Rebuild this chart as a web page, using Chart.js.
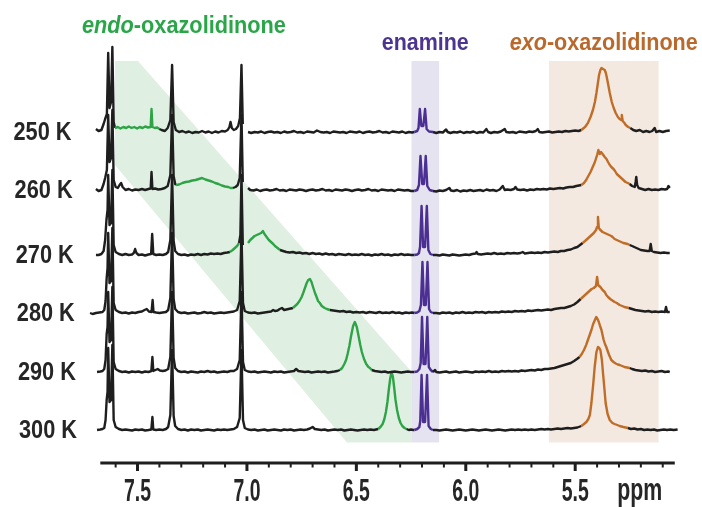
<!DOCTYPE html>
<html>
<head>
<meta charset="utf-8">
<script src="https://cdn.jsdelivr.net/npm/chart.js@4.4.1/dist/chart.umd.min.js"></script>
<style>
  html, body { margin: 0; padding: 0; background: #fff; }
  canvas { display: block; }
</style>
</head>
<body>
<canvas id="nmrChart" width="702" height="507"></canvas>
<script>
// temperatures and the vertical stacking offset of each trace
const temps = ["250 K", "260 K", "270 K", "280 K", "290 K", "300 K"];
const offsets = [338, 280, 215, 157, 98, 40];

// x axis (ppm)
const majorTicks = [7.5, 7.0, 6.5, 6.0, 5.5];
const tickLabels = ["7.5", "7.0", "6.5", "6.0", "5.5"];

// highlighted regions
const endoBand = [[7.603, 409], [7.498, 409], [6.247, 98], [6.247, 27.5], [6.543, 27.5], [7.603, 305]];
const enamineBand = [6.248, 6.122];
const exoBand = [5.620, 5.119];
const bandSpan = [27.5, 409];

// which parts of each trace belong to which species
const endoRanges = [
  [[7.603, 7.40]],
  [[7.324, 7.064]],
  [[7.078, 7.036], [6.995, 6.849]],
  [[6.79, 6.621]],
  [[6.575, 6.43]],
  [[6.40, 6.271]]
];
const enamineRange = [6.235, 6.15];
const exoRanges = [[5.472, 5.248], [5.472, 5.251], [5.466, 5.251], [5.475, 5.255], [5.48, 5.251], [5.472, 5.259]];

// traces: [ppm, intensity]
const s250 = [[7.69,3],[7.678,1],[7.665,2],[7.655,8],[7.648,13],[7.640,18],[7.634,79],[7.628,24],[7.621,30],[7.615,85],[7.609,10],[7.603,4],
  [7.59,5],[7.578,3.5],[7.565,5],[7.552,4],[7.54,5.5],[7.527,4],[7.515,5],[7.502,3.5],[7.49,5],[7.477,4],[7.465,5.5],[7.452,4.5],[7.44,5],[7.436,23],[7.432,5],[7.42,4],[7.41,4.5],[7.40,3],
  [7.39,2],[7.375,1],[7.362,4],[7.350,12],[7.342,67],[7.335,10],[7.325,2],[7.31,0],[7.295,1],[7.28,-0.5],[7.265,0.5],[7.25,-1],[7.235,0],[7.22,-0.5],[7.205,1],[7.19,-0.5],[7.175,0.5],[7.16,-1],[7.145,0.5],[7.13,-0.5],[7.115,1],[7.10,0.5],[7.088,2],[7.080,5],[7.075,10],[7.069,4],[7.06,2],[7.05,3],[7.04,6],[7.032,14],[7.025,67],[7.019,8],[7.012,null],
  [6.995,0],[6.98,-1],[6.965,0],[6.95,-0.5],[6.935,0.5],[6.92,-1],[6.905,0],[6.89,0.5],[6.875,-0.5],[6.86,0],[6.845,-1],[6.83,0.5],[6.815,-0.5],[6.80,0],[6.785,1],[6.77,-0.5],[6.755,0],[6.74,-1],[6.725,0.5],[6.71,0],[6.695,-0.5],[6.68,1.5],[6.665,0],[6.65,-0.5],[6.635,0],[6.62,-1],[6.605,0.5],[6.59,0],[6.575,-0.5],[6.56,0],[6.545,-1],[6.53,0.5],[6.515,0],[6.50,-0.5],[6.485,0.5],[6.47,-1],[6.455,0],[6.44,0.5],[6.425,-0.5],[6.41,0],[6.395,1],[6.38,-0.5],[6.365,0],[6.35,-1],[6.335,0.5],[6.32,0],[6.305,-0.5],[6.29,0.5],[6.275,-1],[6.26,0],[6.245,-0.5],
  [6.235,0],[6.222,1],[6.216,4],[6.210,23],[6.203,6],[6.194,6],[6.186,23],[6.179,3],[6.168,0.5],[6.15,0],
  [6.135,-1],[6.12,0],[6.105,-0.5],[6.09,2.5],[6.083,0],[6.07,-1],[6.055,0],[6.04,-0.5],[6.025,0.5],[6.01,-1],[5.995,0],[5.98,-0.5],[5.965,0.5],[5.95,-1],[5.935,0],[5.92,-0.5],[5.906,3],[5.898,0],[5.885,-1],[5.87,0],[5.855,-0.5],[5.84,0.5],[5.822,3],[5.815,0],[5.80,-0.5],[5.785,0],[5.77,-1],[5.755,0.5],[5.74,0],[5.725,-0.5],[5.71,0.5],[5.695,0],[5.68,1],[5.671,3],[5.664,0],[5.65,-0.5],[5.635,0],[5.62,0.5],[5.605,-0.5],[5.59,0],[5.575,0.5],[5.56,0],[5.545,1],[5.53,0.5],[5.515,1],[5.50,1.5],[5.485,1],
  [5.472,2],[5.455,5],[5.442,9],[5.43,15],[5.419,22],[5.41,30],[5.403,39],[5.397,48],[5.391,57],[5.385,62],[5.380,64],[5.373,63],[5.365,62],[5.36,59],[5.355,54],[5.348,46],[5.342,39],[5.333,30],[5.324,24],[5.315,19],[5.305,15],[5.297,13],[5.290,12],[5.287,17],[5.283,11],[5.275,9],[5.269,7],[5.258,5],[5.248,4],
  [5.235,2],[5.221,1],[5.205,2],[5.19,0],[5.175,1],[5.16,0],[5.148,1],[5.137,4],[5.13,0],[5.115,1],[5.10,0],[5.085,1],[5.068,1.5]];

const s260 = [[7.69,1],[7.678,-1],[7.665,0],[7.655,6],[7.648,12],[7.640,20],[7.634,75],[7.628,28],[7.621,32],[7.615,80],[7.609,10],[7.600,3],[7.590,2],[7.582,5],[7.575,7],[7.568,3],[7.555,0],[7.54,1],[7.525,-0.5],[7.51,0.5],[7.495,0],[7.48,1],[7.465,0],[7.45,1],[7.44,1.5],[7.436,18],[7.432,1],[7.42,1.5],[7.405,0.5],[7.39,1],[7.375,2],[7.362,4],[7.350,15],[7.342,75],[7.335,14],[7.328,6],
  [7.324,5],[7.31,5.5],[7.295,7],[7.28,8],[7.265,8.5],[7.25,9.5],[7.235,10],[7.22,11],[7.205,12],[7.19,10.5],[7.175,9.5],[7.16,8.5],[7.145,7],[7.13,6],[7.115,4.5],[7.10,3.5],[7.085,3],[7.075,2],[7.064,2],
  [7.052,3],[7.042,5],[7.033,12],[7.025,75],[7.019,8],[7.012,null],
  [6.995,2],[6.985,0],[6.97,-0.5],[6.955,0.5],[6.94,-1],[6.925,0],[6.91,0.5],[6.895,-0.5],[6.88,0],[6.865,1],[6.85,-0.5],[6.835,0],[6.82,-1],[6.805,0.5],[6.79,0],[6.775,-0.5],[6.76,0.5],[6.745,0],[6.73,-1],[6.715,0],[6.70,0.5],[6.685,-0.5],[6.67,0],[6.655,1],[6.64,-0.5],[6.625,0],[6.61,-1],[6.595,0.5],[6.58,0],[6.565,-0.5],[6.55,0.5],[6.535,0],[6.52,-1],[6.505,0],[6.49,0.5],[6.475,-0.5],[6.46,0],[6.445,1],[6.43,-0.5],[6.415,0],[6.40,-1],[6.385,0.5],[6.37,0],[6.355,-0.5],[6.34,0],[6.325,-1],[6.31,0.5],[6.295,0],[6.28,-0.5],[6.265,0],[6.25,-1],
  [6.235,-1],[6.222,0],[6.214,5],[6.207,34],[6.199,6],[6.191,6],[6.183,34],[6.176,4],[6.165,0],[6.15,-1],
  [6.135,-1.5],[6.12,-0.5],[6.105,-1],[6.09,0],[6.075,2],[6.068,-0.5],[6.055,-1],[6.04,0],[6.025,-1.5],[6.01,-0.5],[5.995,-1],[5.98,0],[5.965,-1],[5.95,-0.5],[5.935,0],[5.92,-1],[5.905,0.5],[5.89,-0.5],[5.875,0],[5.86,-1],[5.845,0.5],[5.831,4],[5.822,0],[5.81,0.5],[5.795,0],[5.78,1],[5.773,3],[5.765,0.5],[5.75,0],[5.735,0.5],[5.72,-0.5],[5.705,0.5],[5.69,0],[5.675,1],[5.66,0.5],[5.645,1],[5.63,0.5],[5.615,1.5],[5.60,1],[5.585,1.5],[5.57,2],[5.555,1.5],[5.54,2.5],[5.525,3],[5.51,3],[5.495,4],[5.483,4.5],
  [5.472,5],[5.46,7],[5.45,10],[5.44,14],[5.43,18],[5.42,23],[5.41,28],[5.40,35],[5.394,40],[5.388,36],[5.382,38],[5.375,36],[5.365,33],[5.357,31],[5.35,28],[5.342,25],[5.335,23],[5.325,21],[5.318,19],[5.31,16],[5.30,14],[5.29,12],[5.28,10],[5.27,8],[5.26,7],[5.251,6],
  [5.24,4],[5.228,3],[5.224,8],[5.221,13],[5.217,5],[5.21,2],[5.195,1],[5.18,0],[5.165,1],[5.15,0],[5.135,0.5],[5.12,0],[5.105,1],[5.09,0.5],[5.08,1],[5.074,4],[5.068,2]];

const s270 = [[7.69,0],[7.678,0],[7.665,1],[7.655,4],[7.648,15],[7.642,35],[7.637,45],[7.634,80],[7.628,30],[7.621,32],[7.615,85],[7.609,10],[7.600,3],[7.585,1],[7.57,0],[7.555,1],[7.54,0],[7.525,0.5],[7.517,2],[7.511,6],[7.505,2],[7.495,0],[7.48,0.5],[7.465,-0.5],[7.45,0.5],[7.438,1],[7.433,21],[7.428,1],[7.415,0],[7.40,0.5],[7.385,0],[7.37,1],[7.36,3],[7.350,15],[7.342,80],[7.335,14],[7.328,4],[7.315,1],[7.30,0],[7.285,0.5],[7.27,-0.5],[7.255,0.5],[7.24,0],[7.225,1],[7.21,0],[7.195,1],[7.18,0.5],[7.165,1.5],[7.15,1],[7.135,1.5],[7.12,1],[7.105,2],[7.09,2.5],
  [7.078,3],[7.065,5],[7.055,7],[7.045,9],[7.036,12],
  [7.030,20],[7.025,80],[7.019,10],[7.012,null],
  [6.995,12],[6.985,15],[6.975,17],[6.965,19],[6.955,20],[6.945,21],[6.935,22],[6.927,24],[6.92,21],[6.91,18],[6.90,15],[6.89,13],[6.88,11],[6.872,9],[6.86,7],[6.849,5],
  [6.835,4],[6.82,3],[6.805,2.5],[6.79,3],[6.775,2],[6.76,2.5],[6.745,1.5],[6.73,2],[6.715,1],[6.70,2],[6.685,1],[6.67,1.5],[6.655,0.5],[6.64,1.5],[6.625,0.5],[6.61,1],[6.595,0],[6.58,1],[6.565,0.5],[6.55,0],[6.535,1],[6.52,0],[6.505,0.5],[6.49,0],[6.475,1],[6.46,0],[6.445,0.5],[6.43,-0.5],[6.415,0.5],[6.40,0],[6.385,1],[6.37,0],[6.355,0.5],[6.34,-0.5],[6.325,0.5],[6.31,0],[6.295,1],[6.28,0],[6.265,0.5],[6.25,0],
  [6.235,0],[6.222,0.5],[6.214,2],[6.209,8],[6.202,49],[6.195,8],[6.186,8],[6.178,49],[6.171,5],[6.162,1],[6.15,0],
  [6.135,0],[6.12,-0.5],[6.105,0.5],[6.09,0],[6.075,-0.5],[6.06,0.5],[6.045,0],[6.03,-0.5],[6.015,0],[6.0,0.5],[5.985,0],[5.97,1],[5.955,1.5],[5.951,3],[5.945,1],[5.93,0.5],[5.915,1],[5.90,1.5],[5.885,1],[5.87,2],[5.855,1],[5.84,1.5],[5.825,1],[5.81,2],[5.795,1.5],[5.78,2],[5.765,1.5],[5.75,2],[5.74,3],[5.73,1.5],[5.715,2],[5.70,2.5],[5.685,2],[5.67,2.5],[5.655,2],[5.64,3],[5.625,2.5],[5.61,3],[5.595,3.5],[5.58,3],[5.565,4],[5.55,4],[5.535,5],[5.52,5.5],[5.505,7],[5.49,8],[5.478,10],
  [5.466,12],[5.455,14],[5.445,16],[5.435,18],[5.425,20],[5.415,22],[5.405,25],[5.40,28],[5.396,38],[5.392,27],[5.385,25],[5.375,23],[5.365,22],[5.355,21],[5.345,20],[5.335,19],[5.329,18],[5.32,16],[5.31,15],[5.30,14],[5.29,13],[5.28,12],[5.27,11.5],[5.26,11],[5.251,10],
  [5.24,9],[5.23,8],[5.215,6.5],[5.20,5],[5.185,4.5],[5.17,4],[5.16,4],[5.155,11],[5.15,4],[5.14,3],[5.125,2.5],[5.11,2],[5.095,2.5],[5.08,2],[5.068,2]];

const s280 = [[7.717,0],[7.705,-1],[7.69,0],[7.675,0.5],[7.66,1],[7.652,3],[7.646,12],[7.641,35],[7.637,45],[7.634,80],[7.628,30],[7.621,32],[7.615,85],[7.609,10],[7.600,3],[7.585,1],[7.57,0],[7.555,0.5],[7.54,-0.5],[7.525,0.5],[7.51,0],[7.495,1],[7.48,1.5],[7.468,3],[7.458,4],[7.448,1.5],[7.436,1],[7.431,13],[7.427,1],[7.415,0.5],[7.40,0],[7.385,0.5],[7.37,1],[7.36,3],[7.350,15],[7.342,80],[7.335,14],[7.328,4],[7.315,1],[7.30,0],[7.285,0.5],[7.27,-0.5],[7.255,0],[7.24,0.5],[7.225,-0.5],[7.21,0],[7.195,1],[7.18,0],[7.165,0.5],[7.15,-0.5],[7.135,0],[7.12,0.5],[7.105,0],[7.09,0.5],[7.075,1],[7.06,1.5],[7.045,3],[7.033,12],[7.025,80],[7.018,10],[7.010,2],[6.995,0.5],[6.98,0],[6.965,0.5],[6.95,-0.5],[6.935,0],[6.92,0.5],[6.905,1],[6.89,1.5],[6.88,3],[6.872,2],[6.86,2.5],[6.85,4],[6.84,5],[6.83,3],[6.82,3.5],[6.81,4],[6.80,4.5],
  [6.79,5],[6.78,7],[6.77,9],[6.76,12],[6.75,16],[6.743,20],[6.735,25],[6.727,30],[6.72,33],[6.712,34],[6.705,31],[6.698,26],[6.689,20],[6.68,15],[6.675,12],[6.667,10],[6.658,7],[6.645,5],[6.635,4],[6.621,3],
  [6.605,2.5],[6.59,2],[6.575,1.5],[6.56,2],[6.545,1],[6.53,1.5],[6.515,0.5],[6.50,1],[6.485,0.5],[6.47,1],[6.455,0],[6.44,1],[6.425,0.5],[6.41,0],[6.395,1],[6.38,0],[6.365,0.5],[6.35,0],[6.335,1],[6.32,0],[6.305,0.5],[6.29,-0.5],[6.275,0.5],[6.26,0],[6.245,0.5],
  [6.235,0],[6.222,0.5],[6.212,2],[6.205,8],[6.198,51],[6.191,8],[6.183,8],[6.175,51],[6.168,4],[6.16,1],[6.15,0],
  [6.135,0],[6.12,-0.5],[6.105,0.5],[6.09,0],[6.075,0.5],[6.06,-0.5],[6.045,0.5],[6.03,0],[6.015,1],[6.0,0],[5.985,0.5],[5.97,0],[5.955,1],[5.94,0.5],[5.925,1],[5.91,0],[5.895,1],[5.88,0.5],[5.865,1],[5.85,0.5],[5.835,1.5],[5.82,1],[5.805,1.5],[5.79,1],[5.775,2],[5.76,1.5],[5.745,2],[5.73,1.5],[5.715,2.5],[5.70,2],[5.685,2.5],[5.67,3],[5.655,2.5],[5.64,3],[5.625,3.5],[5.61,3],[5.595,4],[5.58,4.5],[5.565,5],[5.55,5],[5.535,6],[5.52,7],[5.505,8.5],[5.49,11],
  [5.475,14],[5.465,16],[5.455,18],[5.445,20],[5.435,22],[5.425,24],[5.415,25],[5.405,27],[5.40,36],[5.395,28],[5.385,26],[5.375,23],[5.365,21],[5.358,18],[5.35,16],[5.34,14],[5.33,12.5],[5.32,11],[5.31,10],[5.297,8],[5.285,7],[5.275,6],[5.265,5.5],[5.255,5],
  [5.24,4],[5.225,3],[5.21,2.5],[5.195,2],[5.18,1.5],[5.165,2],[5.15,1],[5.135,1.5],[5.12,1],[5.105,1.5],[5.09,1],[5.085,6],[5.08,1],[5.068,1]];

const s290 = [[7.685,0],[7.67,0.5],[7.66,1],[7.652,3],[7.646,12],[7.641,38],[7.637,45],[7.634,80],[7.628,30],[7.621,32],[7.615,85],[7.609,10],[7.600,3],[7.585,1],[7.57,0],[7.555,0.5],[7.54,-0.5],[7.525,0.5],[7.51,0],[7.495,0.5],[7.48,-0.5],[7.465,0.5],[7.45,0],[7.437,1],[7.432,15],[7.428,1],[7.418,2],[7.408,3],[7.398,1.5],[7.385,1],[7.372,1.5],[7.36,3],[7.350,15],[7.342,80],[7.335,14],[7.328,4],[7.315,1],[7.30,0],[7.285,0.5],[7.27,-0.5],[7.255,0.5],[7.24,0],[7.225,-0.5],[7.21,0.5],[7.195,0],[7.18,1],[7.165,0],[7.15,0.5],[7.135,-0.5],[7.12,0],[7.105,0.5],[7.09,0],[7.075,1],[7.06,1],[7.045,3],[7.033,12],[7.025,80],[7.018,10],[7.010,2],[6.995,0.5],[6.98,0],[6.965,0.5],[6.95,-0.5],[6.935,0],[6.92,0.5],[6.905,0],[6.89,-0.5],[6.875,0.5],[6.86,0],[6.845,0.5],[6.83,-0.5],[6.815,0],[6.80,0.5],[6.785,1],[6.775,3],[6.765,1],[6.75,0.5],[6.735,0],[6.72,0.5],[6.705,-0.5],[6.69,0],[6.675,0.5],[6.66,0],[6.645,0.5],[6.63,-0.5],[6.615,0],[6.60,0.5],[6.587,1],
  [6.575,2],[6.565,4],[6.555,8],[6.547,12],[6.54,18],[6.532,26],[6.525,35],[6.515,46],[6.507,50],[6.498,45],[6.49,36],[6.482,27],[6.475,20],[6.465,13],[6.455,8],[6.445,5],[6.438,4],[6.43,2],
  [6.415,1],[6.40,0.5],[6.385,0],[6.37,0.5],[6.355,-0.5],[6.34,0],[6.325,0.5],[6.31,0],[6.295,-0.5],[6.28,0],[6.265,0.5],[6.25,0],
  [6.235,0],[6.222,0.5],[6.212,3],[6.206,9],[6.200,55],[6.193,8],[6.184,8],[6.176,55],[6.169,5],[6.16,2],[6.15,0],
  [6.14,2],[6.135,0],[6.12,-0.5],[6.105,0],[6.09,0.5],[6.075,-0.5],[6.06,0],[6.045,0.5],[6.03,-0.5],[6.015,0],[6.0,0.5],[5.985,0],[5.97,-0.5],[5.955,0.5],[5.94,0],[5.925,0.5],[5.91,0],[5.895,1],[5.88,0],[5.865,0.5],[5.85,0],[5.835,1],[5.82,0.5],[5.805,1],[5.79,0.5],[5.775,1],[5.76,0.5],[5.745,1.5],[5.73,1],[5.715,1.5],[5.70,2],[5.685,1.5],[5.67,2.5],[5.655,2],[5.64,3],[5.625,3],[5.61,3.5],[5.595,4],[5.58,5],[5.565,6],[5.55,7],[5.535,8],[5.52,9],[5.505,11],[5.492,13],
  [5.48,15],[5.47,18],[5.46,22],[5.45,27],[5.442,32],[5.434,37],[5.426,42],[5.418,48],[5.41,52],[5.404,55],[5.398,53],[5.392,50],[5.385,45],[5.380,42],[5.375,37],[5.37,32],[5.364,28],[5.358,25],[5.35,20],[5.345,17],[5.335,12],[5.325,10],[5.315,8.5],[5.305,7.5],[5.297,7],[5.285,6],[5.275,5],[5.263,4.5],[5.251,4],
  [5.24,3],[5.225,2],[5.21,1.5],[5.195,1],[5.18,1.5],[5.165,0.5],[5.15,1],[5.135,0],[5.12,0.5],[5.105,1],[5.09,0],[5.075,0.5],[5.068,0]];

const s300 = [[7.685,0],[7.67,0.5],[7.66,1],[7.652,2],[7.646,10],[7.641,30],[7.637,38],[7.634,82],[7.628,28],[7.621,30],[7.615,85],[7.609,10],[7.600,3],[7.585,1],[7.57,0],[7.555,0.5],[7.54,0],[7.525,-0.5],[7.51,0.5],[7.495,0],[7.48,0.5],[7.465,-0.5],[7.45,0],[7.437,0.5],[7.432,13],[7.428,0.5],[7.415,0],[7.40,0.5],[7.385,0],[7.37,1],[7.36,3],[7.350,15],[7.342,80],[7.335,14],[7.328,4],[7.315,1],[7.30,0],[7.285,0.5],[7.27,-0.5],[7.255,0.5],[7.24,0],[7.225,0.5],[7.21,-0.5],[7.195,0],[7.18,0.5],[7.165,0],[7.15,-0.5],[7.135,0.5],[7.12,0],[7.105,0.5],[7.09,0],[7.075,0.5],[7.06,1],[7.045,3],[7.033,12],[7.025,80],[7.018,10],[7.010,2],[6.995,0.5],[6.98,0],[6.965,0.5],[6.95,-0.5],[6.935,0],[6.92,0.5],[6.905,-0.5],[6.89,0],[6.875,0.5],[6.86,0],[6.845,-0.5],[6.83,0.5],[6.815,0],[6.80,0.5],[6.785,-0.5],[6.77,0],[6.755,0.5],[6.74,0],[6.725,0.5],[6.712,1.5],[6.70,3],[6.69,1],[6.675,0.5],[6.66,0],[6.645,0.5],[6.63,-0.5],[6.615,0],[6.60,0.5],[6.585,0],[6.57,0.5],[6.555,-0.5],[6.54,0],[6.525,0.5],[6.51,0],[6.495,-0.5],[6.48,0],[6.465,0.5],[6.45,0],[6.435,0.5],[6.42,0],[6.41,0.5],
  [6.40,1],[6.39,3],[6.38,6],[6.372,11],[6.365,18],[6.358,28],[6.352,40],[6.345,52],[6.339,58],[6.333,53],[6.327,42],[6.321,30],[6.314,20],[6.306,12],[6.298,7],[6.29,4],[6.28,2],[6.271,1],
  [6.26,0],[6.25,0.5],[6.24,0],
  [6.235,0],[6.222,1],[6.212,3],[6.208,9],[6.202,55],[6.195,8],[6.186,8],[6.177,55],[6.170,4],[6.16,1],[6.15,0],
  [6.135,0],[6.12,-0.5],[6.105,0],[6.09,0.5],[6.075,0],[6.06,-0.5],[6.045,0],[6.03,0.5],[6.015,0],[6.0,-0.5],[5.985,0],[5.97,0.5],[5.955,0],[5.94,-0.5],[5.925,0],[5.91,0.5],[5.895,0],[5.88,-0.5],[5.865,0],[5.85,0.5],[5.835,0],[5.82,-0.5],[5.805,0],[5.79,0.5],[5.775,0],[5.76,0.5],[5.745,0],[5.73,0.5],[5.715,0],[5.70,0.5],[5.685,0],[5.67,0.5],[5.655,1],[5.64,0.5],[5.625,1],[5.61,0.5],[5.595,1],[5.58,1.5],[5.565,1],[5.55,1.5],[5.535,2],[5.52,1.5],[5.505,2],[5.49,2.5],
  [5.472,4],[5.46,6],[5.449,8],[5.44,11],[5.433,15],[5.426,27],[5.418,45],[5.411,63],[5.403,78],[5.396,83],[5.39,82],[5.385,80],[5.378,70],[5.373,57],[5.366,40],[5.361,27],[5.352,16],[5.342,10],[5.33,7],[5.32,6],[5.308,5],[5.297,4],[5.28,3],[5.259,2],
  [5.245,1],[5.23,1.5],[5.215,0.5],[5.20,1],[5.185,0],[5.17,0.5],[5.155,0],[5.14,0.5],[5.125,-0.5],[5.11,0],[5.095,0.5],[5.08,0],[5.065,0.5],[5.05,0],[5.032,0.5]];

const spectra = [s250, s260, s270, s280, s290, s300];

const BLACK = "#1e1e1e";
const GREEN = "#2fa446";
const PURPLE = "#4b2f92";
const ORANGE = "#bf6d27";
const FONT = '"Liberation Sans", Arial, sans-serif';

function inRange(a, b, r) {
  const e = 1e-6;
  return a <= r[0] + e && a >= r[1] - e && b <= r[0] + e && b >= r[1] - e;
}

function segColor(i, ctx) {
  const a = ctx.p0.parsed.x, b = ctx.p1.parsed.x;
  if (endoRanges[i].some(r => inRange(a, b, r))) return GREEN;
  if (inRange(a, b, enamineRange)) return PURPLE;
  if (inRange(a, b, exoRanges[i])) return ORANGE;
  return BLACK;
}

// text squeezed to a given width (the figure uses a condensed face)
function drawText(ctx, parts, x, y, size, width, align, color) {
  ctx.save();
  let widths = parts.map(p => {
    ctx.font = (p.italic ? "italic " : "") + "bold " + size + "px " + FONT;
    return ctx.measureText(p.t).width;
  });
  const total = widths.reduce((s, w) => s + w, 0);
  ctx.translate(x, y);
  ctx.scale(width / total, 1);
  ctx.fillStyle = color;
  ctx.textBaseline = "alphabetic";
  ctx.textAlign = "left";
  let start = align === "center" ? -total / 2 : align === "right" ? -total : 0;
  parts.forEach((p, k) => {
    ctx.font = (p.italic ? "italic " : "") + "bold " + size + "px " + FONT;
    ctx.fillText(p.t, start, 0);
    start += widths[k];
  });
  ctx.restore();
}

const bandsPlugin = {
  id: "bands",
  beforeDatasetsDraw(chart) {
    const { ctx, scales: { x, y } } = chart;
    ctx.save();
    ctx.fillStyle = "#dff0e3";
    ctx.beginPath();
    endoBand.forEach((p, k) => {
      const px = x.getPixelForValue(p[0]), py = y.getPixelForValue(p[1]);
      if (k === 0) ctx.moveTo(px, py); else ctx.lineTo(px, py);
    });
    ctx.closePath();
    ctx.fill();

    const top = y.getPixelForValue(bandSpan[1]), bottom = y.getPixelForValue(bandSpan[0]);
    const drawBand = (band, color) => {
      const l = x.getPixelForValue(band[0]), r = x.getPixelForValue(band[1]);
      ctx.fillStyle = color;
      ctx.fillRect(l, top, r - l, bottom - top);
    };
    drawBand(enamineBand, "#e5e3ef");
    drawBand(exoBand, "#f4e9e0");
    ctx.restore();
  }
};

const axisPlugin = {
  id: "axisAndLabels",
  afterDatasetsDraw(chart) {
    const { ctx, scales: { x, y } } = chart;
    const axisY = y.getPixelForValue(7);
    ctx.save();
    ctx.strokeStyle = "#1e1e1e";
    ctx.lineCap = "butt";

    // axis line
    ctx.lineWidth = 3;
    ctx.beginPath();
    ctx.moveTo(x.getPixelForValue(7.67), axisY);
    ctx.lineTo(x.getPixelForValue(5.045), axisY);
    ctx.stroke();

    // minor ticks every 0.1 ppm
    ctx.lineWidth = 2;
    for (let k = 1; k <= 26; k++) {
      const v = 7.7 - k * 0.1;
      if (majorTicks.some(m => Math.abs(m - v) < 1e-6)) continue;
      const px = x.getPixelForValue(v);
      ctx.beginPath();
      ctx.moveTo(px, axisY);
      ctx.lineTo(px, axisY + 4.5);
      ctx.stroke();
    }
    // major ticks and labels
    ctx.lineWidth = 3;
    majorTicks.forEach((v, k) => {
      const px = x.getPixelForValue(v);
      ctx.beginPath();
      ctx.moveTo(px, axisY);
      ctx.lineTo(px, axisY + 8);
      ctx.stroke();
      drawText(ctx, [{ t: tickLabels[k] }], px, 500.5, 32, 27, "center", "#262626");
    });
    drawText(ctx, [{ t: "ppm" }], x.getPixelForValue(5.205), 499.5, 32, 45, "center", "#262626");

    // temperature labels
    temps.forEach((t, i) => {
      const py = y.getPixelForValue(offsets[i]) + 8;
      drawText(ctx, [{ t: t }], 71.5 + i * 1.1, py, 25.5, 58, "right", "#262626");
    });

    // species titles
    drawText(ctx, [{ t: "endo", italic: true }, { t: "-oxazolidinone" }],
      x.getPixelForValue(7.288), 33, 23, 204, "center", "#2aa648");
    drawText(ctx, [{ t: "enamine" }],
      x.getPixelForValue((enamineBand[0] + enamineBand[1]) / 2), 50, 23, 87, "center", "#4b3591");
    drawText(ctx, [{ t: "exo", italic: true }, { t: "-oxazolidinone" }],
      x.getPixelForValue((exoBand[0] + exoBand[1]) / 2), 50, 23, 188, "center", "#b9692b");
    ctx.restore();
  }
};

const datasets = spectra.map((s, i) => ({
  label: temps[i],
  data: s.map(p => ({ x: p[0], y: p[1] === null ? null : offsets[i] + p[1] })),
  borderColor: BLACK,
  borderWidth: 2.4,
  borderJoinStyle: "round",
  pointRadius: 0,
  tension: 0,
  spanGaps: false,
  segment: { borderColor: c => segColor(i, c) }
}));

new Chart(document.getElementById("nmrChart").getContext("2d"), {
  type: "line",
  data: { datasets: datasets },
  options: {
    responsive: false,
    animation: false,
    devicePixelRatio: 1,
    layout: { padding: { left: 85, right: 13, top: 30, bottom: 37 } },
    scales: {
      x: { type: "linear", reverse: true, min: 4.98, max: 7.74, display: false },
      y: { type: "linear", min: 0, max: 440, display: false }
    },
    plugins: {
      legend: { display: false },
      tooltip: { enabled: false }
    }
  },
  plugins: [bandsPlugin, axisPlugin]
});
</script>
</body>
</html>
